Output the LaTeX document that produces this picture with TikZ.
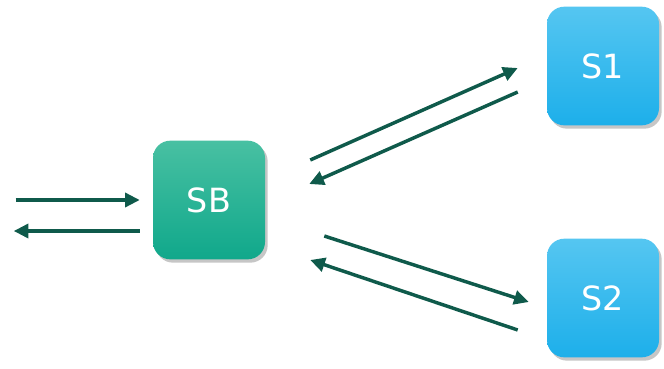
\documentclass[tikz,border=0pt]{standalone}
\usepackage{fontspec}
\setmainfont{DejaVu Sans}
\usepackage{tikz}
\usetikzlibrary{arrows.meta,shadows,calc}

\definecolor{arrowgreen}{HTML}{0F5A4B}
\definecolor{sbtop}{HTML}{48C0A2}
\definecolor{sbbot}{HTML}{10A88B}
\definecolor{stop}{HTML}{55C6F1}
\definecolor{sbottom}{HTML}{1DAFEA}

\tikzset{
  server/.style={rounded corners=13pt, minimum width=84pt, minimum height=89pt,
    text=white, font=\fontsize{25}{25}\selectfont, inner sep=0pt,
    drop shadow={shadow xshift=2pt, shadow yshift=-2.5pt, opacity=0.45}},
  sbbox/.style={server, top color=sbtop, bottom color=sbbot},
  sbox/.style={server, top color=stop, bottom color=sbottom},
  flow/.style={arrowgreen, line width=2.6pt, -{Triangle[length=11pt,width=10.5pt]}}
}

\begin{document}
\begin{tikzpicture}[x=0.75pt,y=-0.75pt]
\useasboundingbox (0,0) rectangle (664,368);

%boxes
\node[sbbox] (sb) at (209,200) {SB};
\node[sbox] (s1) at (603,66) {S1};
\node[sbox] (s2) at (603,298) {S2};

%client side
\draw[flow] ($(sb.west)+(-137,0)$) -- ($(sb.west)+(-13,0)$);
\draw[flow] ($(sb.west)+(-13,31)$) -- ($(sb.west)+(-139,31)$);

%to and from S1
\draw[flow] ($(sb.east)+(45,-40)$) -- ($(s1.west)+(-29,2)$);
\draw[flow] ($(s1.west)+(-29,26)$) -- ($(sb.east)+(44,-16)$);

%to and from S2
\draw[flow] ($(sb.east)+(59,36)$) -- ($(s2.west)+(-18,4)$);
\draw[flow] ($(s2.west)+(-29,32)$) -- ($(sb.east)+(45,60)$);
\end{tikzpicture}
\end{document}
